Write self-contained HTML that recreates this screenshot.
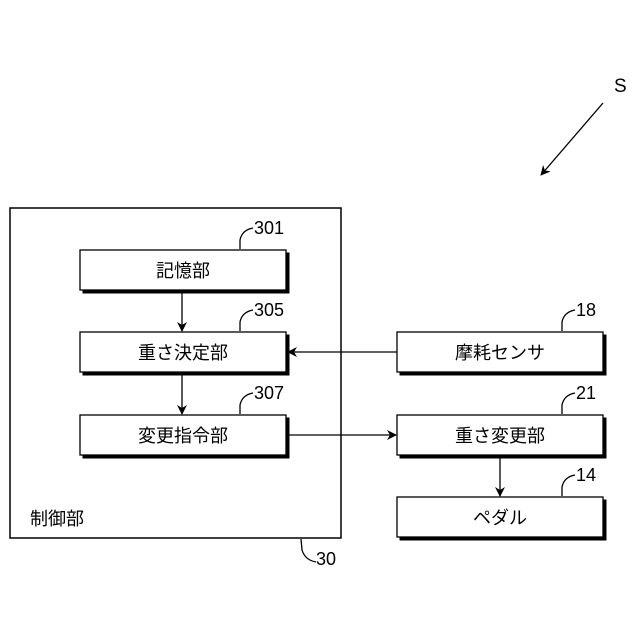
<!DOCTYPE html>
<html><head><meta charset="utf-8"><style>
body{margin:0;background:#fff}
svg{display:block}
text{font-family:"Liberation Sans","Noto Sans CJK JP",sans-serif;fill:#000}
</style></head><body>
<svg width="640" height="640" viewBox="0 0 640 640" xmlns="http://www.w3.org/2000/svg">
<defs>
<marker id="a" markerWidth="10" markerHeight="10" refX="9" refY="5" orient="auto" markerUnits="userSpaceOnUse">
<path d="M0,0 L10,5 L0,10 L3,5 Z" fill="#000"/>
</marker>
</defs>
<g fill="none" stroke="#000" stroke-width="1.5">
<rect x="10" y="208" width="331" height="330"/>
</g>
<g stroke="#000">
<!-- shadows -->
<rect x="83" y="253" width="206" height="40" fill="#000"/>
<rect x="83" y="335" width="206" height="40" fill="#000"/>
<rect x="83" y="418" width="206" height="40" fill="#000"/>
<rect x="400" y="335" width="206" height="40" fill="#000"/>
<rect x="400" y="418" width="206" height="40" fill="#000"/>
<rect x="400" y="500" width="206" height="40" fill="#000"/>
<rect x="80" y="250" width="206" height="40" fill="#fff" stroke-width="1.3"/>
<rect x="80" y="332" width="206" height="40" fill="#fff" stroke-width="1.3"/>
<rect x="80" y="415" width="206" height="40" fill="#fff" stroke-width="1.3"/>
<rect x="397" y="332" width="206" height="40" fill="#fff" stroke-width="1.3"/>
<rect x="397" y="415" width="206" height="40" fill="#fff" stroke-width="1.3"/>
<rect x="397" y="497" width="206" height="40" fill="#fff" stroke-width="1.3"/>
</g>
<g stroke="#000" stroke-width="1.3" fill="none">
<line x1="182" y1="293" x2="182" y2="331" marker-end="url(#a)"/>
<line x1="182" y1="375" x2="182" y2="414" marker-end="url(#a)"/>
<line x1="397" y1="352" x2="288" y2="352" marker-end="url(#a)"/>
<line x1="289" y1="435" x2="396" y2="435" marker-end="url(#a)"/>
<line x1="500" y1="458" x2="500" y2="496" marker-end="url(#a)"/>
<line x1="603" y1="103" x2="541" y2="175" marker-end="url(#a)"/>
<!-- leaders -->
<path d="M240,249 L240,240 Q242,230 253,228"/>
<path d="M240,331 L240,322 Q242,312 253,310"/>
<path d="M240,414 L240,405 Q242,395 253,393"/>
<path d="M562,331 L562,322 Q564,312 575,310"/>
<path d="M562,414 L562,405 Q564,395 575,393"/>
<path d="M562,496 L562,487 Q564,477 575,475"/>
<path d="M301,539 L302,550 Q305,560 316,562"/>
</g>
<g font-size="18" text-anchor="middle">
<text x="183" y="277">記憶部</text>
<text x="183" y="359">重さ決定部</text>
<text x="183" y="442">変更指令部</text>
<text x="500" y="359">摩耗センサ</text>
<text x="500" y="442">重さ変更部</text>
<text x="500" y="524">ペダル</text>
</g>
<text x="30" y="525" font-size="18">制御部</text>
<g font-size="18">
<text x="254" y="234">301</text>
<text x="254" y="316">305</text>
<text x="254" y="399">307</text>
<text x="576" y="316">18</text>
<text x="576" y="399">21</text>
<text x="576" y="481">14</text>
<text x="316" y="565">30</text>
<text x="614" y="92" font-size="19">S</text>
</g>
</svg>
</body></html>
